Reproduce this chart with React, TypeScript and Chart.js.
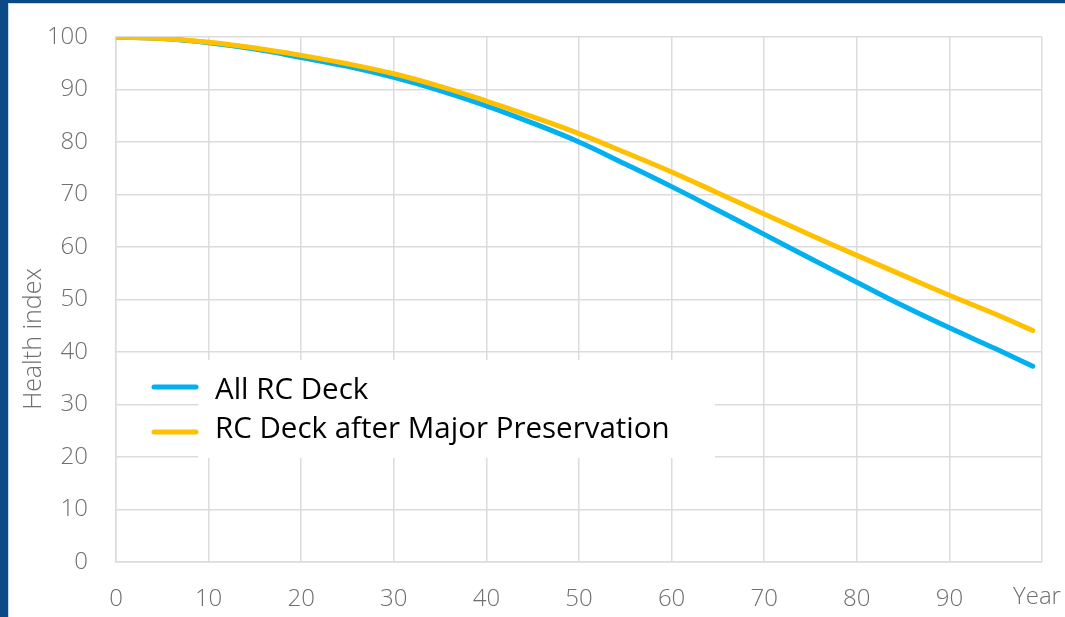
import React, { useEffect, useRef } from "react";
import { Chart, registerables } from "chart.js";

Chart.register(...registerables);

// Service year of the deck
const years = [0, 5, 10, 15, 20, 25, 30, 35, 40, 45, 50, 55, 60, 65, 70, 75, 80, 85, 90, 95, 99];
// Health index, all reinforced concrete decks
const allRcDeck = [100, 99.7, 98.9, 97.7, 96.1, 94.4, 92.3, 89.8, 86.9, 83.6, 80.0, 75.8, 71.5, 67.0, 62.4, 57.8, 53.3, 48.8, 44.6, 40.6, 37.3];
// Health index, decks after a major preservation action
const afterPreservation = [100, 99.7, 99.0, 97.9, 96.5, 94.9, 93.0, 90.6, 87.8, 84.8, 81.6, 78.0, 74.3, 70.3, 66.3, 62.3, 58.4, 54.6, 50.8, 47.2, 44.1];

const seriesLabels = ["All RC Deck", "RC Deck after Major Preservation"];
const seriesColors = ["#00B0F0", "#FFC000"];
const yAxisTitle = "Health index";
const xAxisTitle = "Year";

const TICK_FONT = { family: "'Open Sans', sans-serif", size: 24, weight: 300 as any };
const TICK_COLOR = "#6f6f6f";
const GRID_COLOR = "#dcdcdc";

const annotations = {
  id: "annotations",
  afterDatasetsDraw(chart: any) {
    const { ctx, chartArea, scales } = chart;
    ctx.save();

    // legend panel over the grid
    ctx.fillStyle = "#ffffff";
    ctx.fillRect(198, 360, 517, 98);
    const rows = [
      { lineY: 387, textY: 399 },
      { lineY: 432, textY: 438 },
    ];
    rows.forEach((r, i) => {
      ctx.strokeStyle = seriesColors[i];
      ctx.lineWidth = 5;
      ctx.lineCap = "round";
      ctx.beginPath();
      ctx.moveTo(154, r.lineY);
      ctx.lineTo(196, r.lineY);
      ctx.stroke();
      ctx.fillStyle = "#000000";
      ctx.font = "29.5px 'Open Sans', sans-serif";
      ctx.textAlign = "left";
      ctx.textBaseline = "alphabetic";
      ctx.fillText(seriesLabels[i], 215, r.textY);
    });

    // axis titles
    ctx.fillStyle = TICK_COLOR;
    ctx.font = "300 25px 'Open Sans', sans-serif";
    ctx.textAlign = "center";
    ctx.textBaseline = "middle";
    ctx.save();
    ctx.translate(34, 339);
    ctx.rotate(-Math.PI / 2);
    ctx.fillText(yAxisTitle, 0, 0);
    ctx.restore();

    const x100 = scales.x.getPixelForValue(100);
    ctx.font = "300 24px 'Open Sans', sans-serif";
    ctx.textBaseline = "top";
    ctx.fillText(xAxisTitle, x100 - 5, chartArea.bottom + 23);
    ctx.restore();
  },
};

export default function App() {
  const canvasRef = useRef<HTMLCanvasElement>(null);

  useEffect(() => {
    document.body.style.margin = "0";
    const canvas = canvasRef.current;
    if (!canvas) return;
    const chart = new Chart(canvas, {
      type: "line",
      data: {
        datasets: [
          {
            label: seriesLabels[0],
            data: years.map((y, i) => ({ x: y, y: allRcDeck[i] })),
            borderColor: seriesColors[0],
            backgroundColor: seriesColors[0],
            borderWidth: 5,
            pointRadius: 0,
            tension: 0.4,
            borderCapStyle: "round",
            order: 1,
          },
          {
            label: seriesLabels[1],
            data: years.map((y, i) => ({ x: y, y: afterPreservation[i] })),
            borderColor: seriesColors[1],
            backgroundColor: seriesColors[1],
            borderWidth: 5,
            pointRadius: 0,
            tension: 0.4,
            borderCapStyle: "round",
            order: 0,
          },
        ],
      },
      options: {
        responsive: false,
        animation: false,
        layout: { padding: { left: 0, top: 37, right: 23, bottom: 0 } },
        plugins: {
          legend: { display: false },
          tooltip: { enabled: false },
          title: { display: false },
        },
        scales: {
          x: {
            type: "linear",
            min: 0,
            max: 100,
            ticks: {
              stepSize: 10,
              padding: 0,
              font: TICK_FONT,
              color: TICK_COLOR,
              maxRotation: 0,
              callback: (v: any) => (v === 100 ? "" : String(v)),
            },
            grid: {
              color: GRID_COLOR,
              lineWidth: 1.5,
              drawTicks: true,
              tickLength: 23,
              tickColor: "rgba(0,0,0,0)",
            },
            border: { color: GRID_COLOR, width: 1.5 },
            afterFit: (s: any) => {
              s.height = 55;
            },
          },
          y: {
            min: 0,
            max: 100,
            ticks: {
              stepSize: 10,
              padding: 0,
              font: TICK_FONT,
              color: TICK_COLOR,
            },
            grid: {
              color: GRID_COLOR,
              lineWidth: 1.5,
              drawTicks: true,
              tickLength: 28,
              tickColor: "rgba(0,0,0,0)",
            },
            border: { color: GRID_COLOR, width: 1.5 },
            afterFit: (s: any) => {
              s.width = 116;
            },
          },
        },
      },
      plugins: [annotations],
    });
    return () => chart.destroy();
  }, []);

  return (
    <div
      style={{
        position: "absolute",
        left: 0,
        top: 0,
        width: 1065,
        height: 617,
        background: "#0b4a86",
        overflow: "hidden",
      }}
    >
      <div
        style={{
          position: "absolute",
          left: 8,
          top: 3,
          right: 0,
          bottom: 0,
          background: "#ffffff",
          borderLeft: "1px solid #c9d6e6",
          borderTop: "1px solid #c9d6e6",
        }}
      />
      <canvas
        ref={canvasRef}
        width={1065}
        height={617}
        style={{ position: "absolute", left: 0, top: 0 }}
      />
    </div>
  );
}
